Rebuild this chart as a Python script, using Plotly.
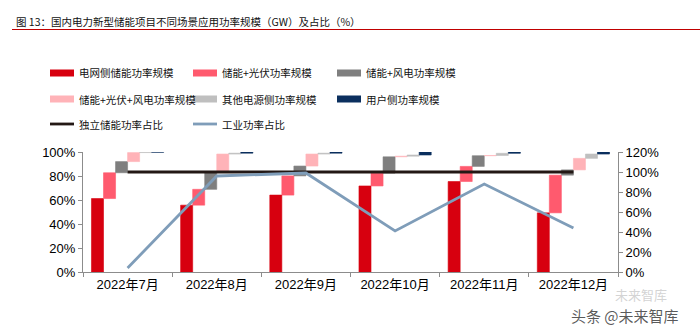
import plotly.graph_objects as go

# ---- data ----
months = ["2022年7月", "2022年8月", "2022年9月", "2022年10月", "2022年11月", "2022年12月"]

grid_side = [61.2, 55.7, 64.1, 71.7, 75.4, 49.3]          # 电网侧储能功率规模
pv_storage = [21.5, 13.2, 16.0, 10.7, 12.6, 31.4]         # 储能+光伏功率规模
wind_storage = [9.3, 14.1, 8.2, 13.6, 8.9, 4.4]           # 储能+风电功率规模
pv_wind_storage = [7.5, 15.3, 10.0, 0.5, 0.2, 9.6]        # 储能+光伏+风电功率规模
other_source = [0.3, 0.7, 0.7, 1.0, 1.8, 3.6]             # 其他电源侧功率规模
user_side = [0.2, 1.0, 1.0, 2.5, 1.1, 1.7]                # 用户侧功率规模

independent_share = [100, 100, 100, 100, 100, 100]        # 独立储能功率占比
industrial_share = [4, 96, 99, 41, 88, 44]                # 工业功率占比

bar_series = [
    ("电网侧储能功率规模", grid_side, "#D7000F"),
    ("储能+光伏功率规模", pv_storage, "#FF5A6E"),
    ("储能+风电功率规模", wind_storage, "#7F7F7F"),
    ("储能+光伏+风电功率规模", pv_wind_storage, "#FFB3B8"),
    ("其他电源侧功率规模", other_source, "#BFBFBF"),
    ("用户侧功率规模", user_side, "#0B2F5E"),
]
line_series = [
    ("独立储能功率占比", independent_share, "#231815"),
    ("工业功率占比", industrial_share, "#7F9DB9"),
]

# ---- layout geometry (pixels) ----
W, H = 700, 333
ML, MR, MT, MB = 83, 82, 152, 61
PW, PH = W - ML - MR, H - MT - MB


def px(xp):
    return (xp - ML) / PW


def py(yp):
    return (H - MB - yp) / PH


FONT = "Liberation Sans, Arial, Noto Sans CJK SC, sans-serif"
CJK = "Noto Sans CJK SC, Liberation Sans, sans-serif"

fig = go.Figure()

# floating bars: each segment starts where the previous one ended
running = [0.0] * len(months)
for name, vals, color in bar_series:
    fig.add_trace(go.Bar(
        x=months, y=vals, base=list(running), name=name,
        marker=dict(color=color, line=dict(color=color, width=0.6)),
        showlegend=False, yaxis="y",
    ))
    running = [r + v for r, v in zip(running, vals)]

for name, vals, color in line_series:
    fig.add_trace(go.Scatter(
        x=months, y=vals, name=name, mode="lines",
        line=dict(color=color, width=2.8),
        showlegend=False, yaxis="y2",
    ))

shapes = []
annotations = []

# title and underline
annotations.append(dict(
    x=px(14), y=py(21), xref="paper", yref="paper", xanchor="left", yanchor="middle",
    text="图 13：国内电力新型储能项目不同场景应用功率规模（GW）及占比（%）",
    showarrow=False, font=dict(family=CJK, size=10.5, color="#111111"),
))
shapes.append(dict(type="line", xref="paper", yref="paper",
                   x0=px(12), x1=px(700), y0=py(29.5), y1=py(29.5),
                   line=dict(color="#C00000", width=1.2)))

# legend drawn as swatches + labels
col_x = [50, 193, 337]
row_y = [73, 99, 124]
entries = [(n, c, "bar") for n, _, c in bar_series] + [(n, c, "line") for n, _, c in line_series]
for i, (name, color, kind) in enumerate(entries):
    cx = col_x[i % 3]
    cy = row_y[i // 3]
    if kind == "bar":
        shapes.append(dict(type="rect", xref="paper", yref="paper",
                           x0=px(cx), x1=px(cx + 24), y0=py(cy - 3.5), y1=py(cy + 3.5),
                           fillcolor=color, line=dict(width=0)))
    else:
        shapes.append(dict(type="line", xref="paper", yref="paper",
                           x0=px(cx), x1=px(cx + 24), y0=py(cy), y1=py(cy),
                           line=dict(color=color, width=2.8)))
    annotations.append(dict(
        x=px(cx + 27), y=py(cy), xref="paper", yref="paper",
        xanchor="left", yanchor="middle", text=name, showarrow=False,
        font=dict(family=CJK, size=10.5, color="#111111"),
    ))

# watermark
annotations.append(dict(
    x=px(641), y=py(294), xref="paper", yref="paper", xanchor="center", yanchor="middle",
    text="未来智库", showarrow=False, font=dict(family=CJK, size=13, color="rgba(200,200,200,0.8)"),
))
annotations.append(dict(
    x=px(625), y=py(315), xref="paper", yref="paper", xanchor="center", yanchor="middle",
    text="头条 @未来智库", showarrow=False, font=dict(family=CJK, size=15, color="rgba(60,60,60,0.85)"),
))

fig.update_layout(
    width=W, height=H,
    margin=dict(l=ML, r=MR, t=MT, b=MB, pad=0),
    paper_bgcolor="white", plot_bgcolor="white",
    barmode="group", bargap=0.19, bargroupgap=0,
    showlegend=False,
    font=dict(family=FONT, size=13, color="#000000"),
    xaxis=dict(
        type="category", showline=True, linecolor="#8c8c8c", linewidth=1,
        ticks="outside", ticklen=4, tickcolor="#8c8c8c", tickson="boundaries",
        showgrid=False, zeroline=False,
        tickfont=dict(family=FONT, size=13, color="#000000"),
    ),
    yaxis=dict(
        range=[0, 100], dtick=20, ticksuffix="%", showline=True, linecolor="#8c8c8c",
        ticks="outside", ticklen=4, tickcolor="#8c8c8c", showgrid=False, zeroline=False,
        tickfont=dict(family=FONT, size=13, color="#000000"),
    ),
    yaxis2=dict(
        range=[0, 120], dtick=20, ticksuffix="%", overlaying="y", side="right",
        showline=True, linecolor="#8c8c8c", ticks="outside", ticklen=4,
        tickcolor="#8c8c8c", showgrid=False, zeroline=False,
        tickfont=dict(family=FONT, size=13, color="#000000"),
    ),
    shapes=shapes,
    annotations=annotations,
)

fig.write_html("out.html")
